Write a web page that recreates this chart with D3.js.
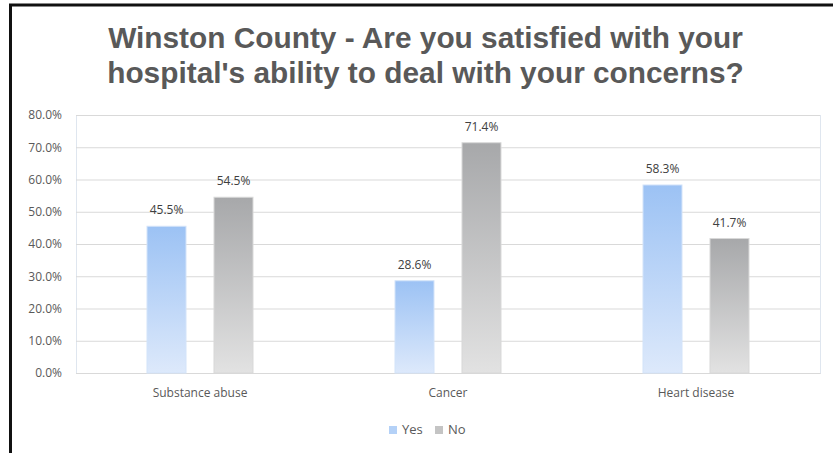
<!DOCTYPE html>
<html>
<head>
<meta charset="utf-8">
<script src="https://cdn.jsdelivr.net/npm/d3@7"></script>
<style>
  html, body { margin: 0; padding: 0; background: #fff; }
  svg { display: block; }
</style>
</head>
<body>
<svg id="chart" width="833" height="453"></svg>
<script>
const categories = ["Substance abuse", "Cancer", "Heart disease"];
const seriesNames = ["Yes", "No"];
const yesValues = [45.5, 28.6, 58.3];
const noValues = [54.5, 71.4, 41.7];
const yTicks = [0, 10, 20, 30, 40, 50, 60, 70, 80];
const titleLines = ["Winston County - Are you satisfied with your", "hospital's ability to deal with your concerns?"];

const svg = d3.select("#chart");
const W = 833, H = 453;
const plot = { left: 76, right: 820, top: 115, bottom: 373 };
const labelFont = "'Open Sans', 'DejaVu Sans', sans-serif";

// Gradients for the two series
const defs = svg.append("defs");
const gradSpecs = [
  { id: "gYes", top: "#9cc2f4", bottom: "#dde9fb" },
  { id: "gNo", top: "#a7a8aa", bottom: "#e2e2e2" }
];
gradSpecs.forEach(g => {
  const lg = defs.append("linearGradient").attr("id", g.id)
    .attr("x1", 0).attr("y1", 0).attr("x2", 0).attr("y2", 1);
  lg.append("stop").attr("offset", "0%").attr("stop-color", g.top);
  lg.append("stop").attr("offset", "100%").attr("stop-color", g.bottom);
});

// Outer frame
svg.append("rect").attr("x", 10.5).attr("y", 5).attr("width", W + 20).attr("height", H + 20)
  .attr("fill", "none").attr("stroke", "#111").attr("stroke-width", 3);

// Title, sized so the first line spans the intended width
const title = svg.append("text")
  .attr("text-anchor", "middle")
  .attr("font-family", "'Liberation Sans', Arial, sans-serif")
  .attr("font-weight", "bold")
  .attr("font-size", 28)
  .attr("fill", "#595959");
const tspans = titleLines.map((t, i) =>
  title.append("tspan").attr("x", 425.5).attr("y", 48 + i * 35).text(t));
const firstLen = tspans[0].node().getComputedTextLength();
if (firstLen > 0) title.attr("font-size", 28 * 635 / firstLen);

const x = d3.scaleBand().domain(categories).range([plot.left, plot.right]);
const y = d3.scaleLinear().domain([0, 80]).range([plot.bottom, plot.top]);

// Plot area border
svg.append("rect").attr("x", plot.left + 0.5).attr("y", plot.top + 0.5)
  .attr("width", plot.right - plot.left).attr("height", plot.bottom - plot.top)
  .attr("fill", "none").attr("stroke", "#dfe6ef").attr("stroke-width", 1);

// Value axis with gridlines
const yAxis = d3.axisLeft(y).tickValues(yTicks)
  .tickSize(-(plot.right - plot.left))
  .tickFormat(d => d3.format(".1f")(d) + "%");
const gy = svg.append("g").attr("transform", `translate(${plot.left},0)`).call(yAxis);
gy.select(".domain").remove();
gy.selectAll(".tick line").attr("stroke", "#d9d9d9").attr("stroke-width", 1);
gy.selectAll(".tick text")
  .attr("x", -14)
  .attr("font-family", labelFont)
  .attr("font-size", 12)
  .attr("fill", "#595959");

// Category axis
const xAxis = d3.axisBottom(x).tickSize(0).tickPadding(15);
const gx = svg.append("g").attr("transform", `translate(0,${plot.bottom})`).call(xAxis);
gx.select(".domain").attr("stroke", "#d9d9d9");
gx.selectAll(".tick text")
  .attr("font-family", labelFont)
  .attr("font-size", 12)
  .attr("fill", "#595959");

// Bars
const x1 = d3.scaleBand().domain(seriesNames).range([0, x.bandwidth()])
  .paddingInner(0.418).paddingOuter(1.06);
const rows = categories.map((c, i) => ({ cat: c, vals: [
  { s: "Yes", v: yesValues[i], grad: "gYes", edge: "#d3e3f9" },
  { s: "No", v: noValues[i], grad: "gNo", edge: "#d8d8d8" }
]}));

const groups = svg.append("g").selectAll("g").data(rows).join("g")
  .attr("transform", d => `translate(${x(d.cat)},0)`);

groups.selectAll("rect").data(d => d.vals).join("rect")
  .attr("x", d => x1(d.s))
  .attr("y", d => y(d.v))
  .attr("width", x1.bandwidth())
  .attr("height", d => y(0) - y(d.v))
  .attr("fill", d => `url(#${d.grad})`)
  .attr("stroke", d => d.edge)
  .attr("stroke-width", 1);

groups.selectAll("text").data(d => d.vals).join("text")
  .attr("x", d => x1(d.s) + x1.bandwidth() / 2)
  .attr("y", d => y(d.v) - 12)
  .attr("text-anchor", "middle")
  .attr("font-family", labelFont)
  .attr("font-size", 12)
  .attr("fill", "#404040")
  .text(d => d.v.toFixed(1) + "%");

// Legend
const legend = svg.append("g").attr("transform", "translate(389,434)");
const legendItems = [
  { s: "Yes", color: "#b4d1f7", dx: 0 },
  { s: "No", color: "#c4c4c4", dx: 46 }
];
const li = legend.selectAll("g").data(legendItems).join("g")
  .attr("transform", d => `translate(${d.dx},0)`);
li.append("rect").attr("x", 0).attr("y", -8).attr("width", 8).attr("height", 8).attr("fill", d => d.color);
li.append("text").attr("x", 13).attr("y", 0)
  .attr("font-family", labelFont)
  .attr("font-size", 13)
  .attr("fill", "#595959")
  .text(d => d.s);
</script>
</body>
</html>
